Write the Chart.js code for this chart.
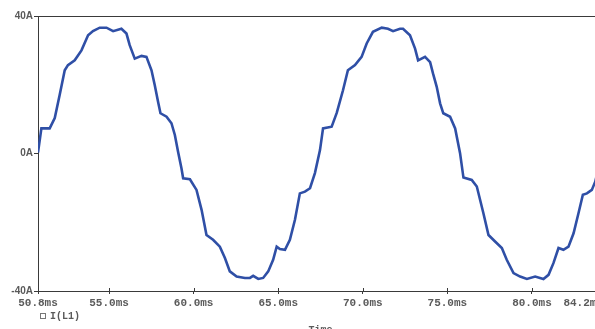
<!DOCTYPE html>
<html>
<head>
<meta charset="utf-8">
<script src="https://cdn.jsdelivr.net/npm/chart.js@4/dist/chart.umd.min.js"></script>
<style>
  html, body { margin: 0; padding: 0; background: #fff; overflow: hidden; }
  #wrap { width: 595px; height: 329px; overflow: hidden; }
  canvas { display: block; }
</style>
</head>
<body>
<div id="wrap"><canvas id="c" width="640" height="329"></canvas></div>
<script>
// Inductor current I(L1) over the 50.8 ms .. 84.2 ms window
const timeMs = [
  50.80, 51.00, 51.49, 51.79, 52.08, 52.38, 52.57, 52.97, 53.37, 53.76,
  54.05, 54.45, 54.85, 55.24, 55.73, 56.03, 56.22, 56.52, 56.92, 57.21,
  57.51, 57.70, 57.90, 58.04, 58.40, 58.69, 58.89, 59.08, 59.28, 59.38,
  59.78, 60.17, 60.47, 60.76, 61.15, 61.55, 61.85, 62.14, 62.54, 63.03,
  63.33, 63.52, 63.82, 64.11, 64.41, 64.70, 64.91, 65.10, 65.40, 65.69,
  65.99, 66.28, 66.58, 66.88, 67.17, 67.47, 67.65, 68.16, 68.46, 68.83,
  69.12, 69.54, 69.93, 70.23, 70.60, 71.12, 71.49, 71.79, 72.20, 72.38,
  72.79, 73.09, 73.27, 73.68, 73.98, 74.15, 74.37, 74.57, 74.76, 75.16,
  75.46, 75.75, 75.95, 76.44, 76.74, 77.13, 77.43, 77.82, 78.22, 78.51,
  78.91, 79.30, 79.70, 80.19, 80.68, 80.98, 81.27, 81.57, 81.86, 82.16,
  82.46, 82.75, 83.01, 83.25, 83.54, 83.74, 83.98, 84.20
];
const currentA = [
    0.3,   7.3,   7.3,  10.3,  17.0,  24.2,  25.7,  27.1,  30.0,  34.4,
   35.6,  36.6,  36.6,  35.6,  36.3,  34.9,  31.5,  27.6,  28.4,  28.1,
   24.2,  19.9,  15.0,  11.7,  10.7,   8.8,   5.4,   0.5,  -4.3,  -7.2,
   -7.5, -10.6, -16.4, -23.7, -25.1, -27.1, -30.4, -34.3, -35.8, -36.2,
  -36.2, -35.6, -36.5, -36.2, -34.3, -30.9, -27.1, -27.8, -28.0, -25.1,
  -19.3, -11.6, -11.1, -10.1,  -5.7,   1.0,   7.3,   7.8,  11.8,  18.4,
   24.2,  25.7,  28.1,  32.0,  35.4,  36.6,  36.3,  35.6,  36.3,  36.3,
   34.4,  30.5,  27.1,  28.1,  26.6,  23.3,  19.4,  14.6,  11.7,  10.7,
    7.3,   0.1,  -7.0,  -7.7,  -9.6, -17.4, -23.7, -25.6, -27.5, -30.9,
  -34.8, -35.8, -36.5, -35.8, -36.5, -35.3, -31.9, -27.5, -28.0, -27.1,
  -23.2, -17.4, -12.0, -11.6, -10.6,  -8.2,  -3.3,   1.0
];
const xTicksMs = [50.8, 55.0, 60.0, 65.0, 70.0, 75.0, 80.0, 84.2];
const yTicksA = [-40, 0, 40];
const traceName = 'I(L1)';
const axisName = 'Time';

const points = timeMs.map((t, i) => ({ x: t, y: currentA[i] }));
const lastTick = xTicksMs[xTicksMs.length - 1];
const fmtMs = v => Number(v).toFixed(1) + 'ms';

const AXIS = '#3a3a3a';
const TEXT = '#5a5a5a';
const MONO = '"Liberation Mono", "DejaVu Sans Mono", monospace';
const X_FONT = 'bold 11px ' + MONO;

const decorations = {
  id: 'decorations',
  afterDraw(chart) {
    const { ctx, chartArea: a } = chart;
    const xs = chart.scales.x;
    ctx.save();
    // top frame line
    ctx.strokeStyle = AXIS;
    ctx.lineWidth = 1;
    ctx.beginPath();
    ctx.moveTo(a.left, a.top + 0.5);
    ctx.lineTo(chart.width, a.top + 0.5);
    ctx.stroke();
    // small tick marks crossing the time axis
    ctx.beginPath();
    xTicksMs.forEach(v => {
      const px = Math.round(xs.getPixelForValue(v)) + 0.5;
      ctx.moveTo(px, a.bottom - 3);
      ctx.lineTo(px, a.bottom);
    });
    ctx.stroke();
    // end-of-window time label, right-aligned to the axis end
    ctx.fillStyle = TEXT;
    ctx.font = X_FONT;
    ctx.textAlign = 'right';
    ctx.textBaseline = 'middle';
    ctx.fillText(fmtMs(lastTick), xs.getPixelForValue(lastTick), 303);
    // trace legend: hollow square + name
    ctx.strokeStyle = '#777';
    ctx.strokeRect(40.5, 313.5, 5, 5);
    ctx.font = 'bold 10px ' + MONO;
    ctx.textAlign = 'left';
    ctx.fillText(traceName, 50, 316);
    // axis name
    ctx.textAlign = 'center';
    ctx.textBaseline = 'alphabetic';
    ctx.fillText(axisName, (a.left + a.right) / 2, 333);
    ctx.restore();
  }
};

new Chart(document.getElementById('c'), {
  type: 'line',
  data: {
    datasets: [{
      label: traceName,
      data: points,
      borderColor: '#2f4fa6',
      borderWidth: 2.6,
      pointRadius: 0,
      tension: 0,
      fill: false
    }]
  },
  options: {
    responsive: false,
    devicePixelRatio: 1,
    animation: false,
    layout: { padding: { top: 16, right: 37, left: 0, bottom: 0 } },
    plugins: { legend: { display: false }, tooltip: { enabled: false } },
    scales: {
      x: {
        type: 'linear',
        min: 50.8,
        max: 84.2,
        afterBuildTicks: s => { s.ticks = xTicksMs.map(v => ({ value: v })); },
        afterFit: s => { s.height = 38; },
        grid: { display: true, drawOnChartArea: false, drawTicks: true, tickLength: 3, color: AXIS },
        border: { display: true, color: AXIS, width: 1 },
        ticks: {
          autoSkip: false,
          maxRotation: 0,
          padding: 3,
          color: TEXT,
          font: { family: MONO, size: 11, weight: 'bold' },
          callback: v => (v === lastTick ? '' : fmtMs(v))
        }
      },
      y: {
        min: -40,
        max: 40,
        afterBuildTicks: s => { s.ticks = yTicksA.map(v => ({ value: v })); },
        afterFit: s => { s.width = 38; },
        grid: { display: true, drawOnChartArea: false, drawTicks: true, tickLength: 4, color: AXIS },
        border: { display: true, color: AXIS, width: 1 },
        ticks: {
          padding: 1,
          color: TEXT,
          font: { family: '"Liberation Sans", Arial, sans-serif', size: 10, weight: 'bold' },
          callback: v => v + 'A'
        }
      }
    }
  },
  plugins: [decorations]
});
</script>
</body>
</html>
